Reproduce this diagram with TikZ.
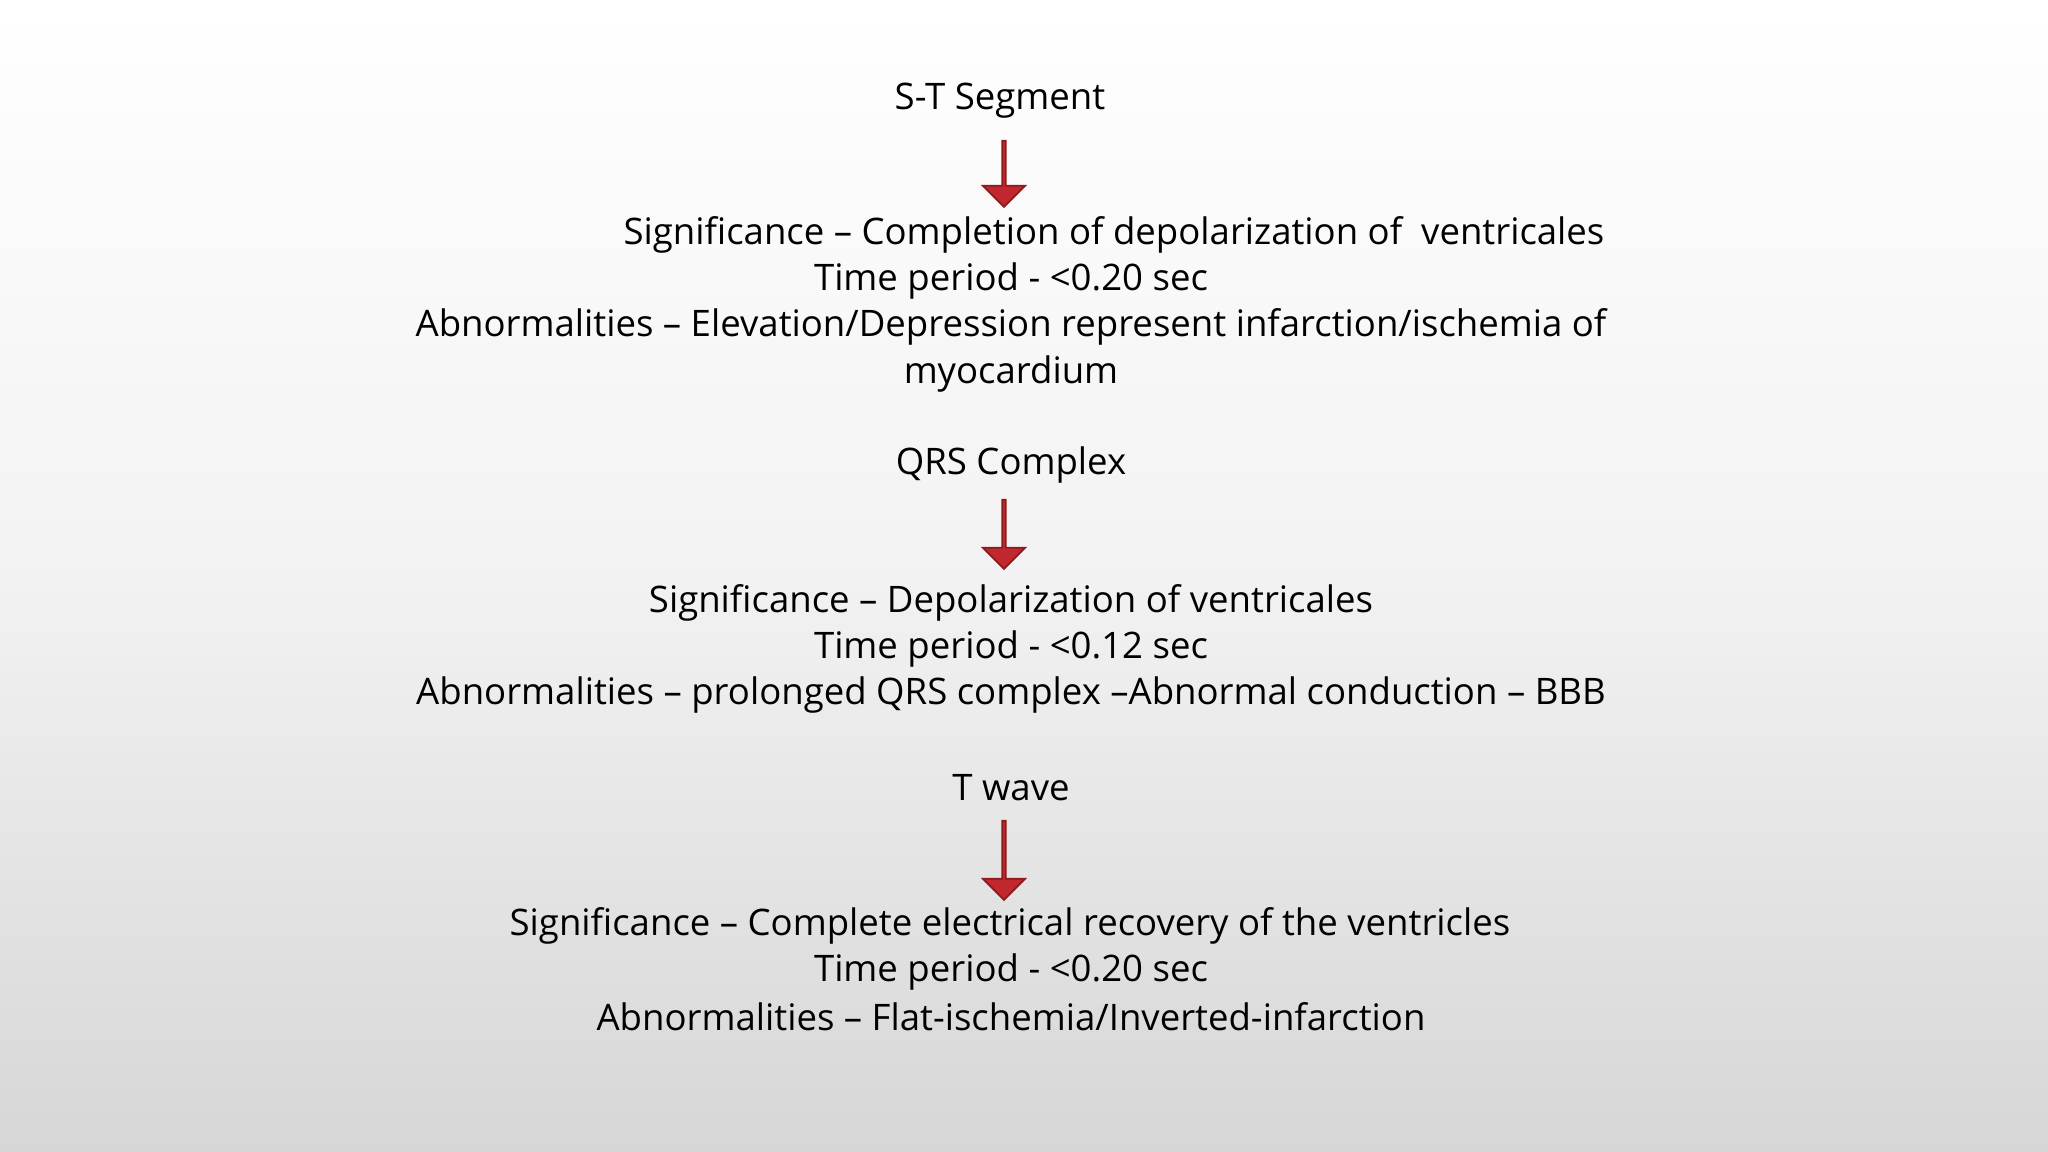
\documentclass[tikz,border=0pt]{standalone}
\usepackage{fontspec}
\setmainfont{Open Sans}
\usetikzlibrary{shapes.arrows}
\definecolor{arrred}{HTML}{C0282D}
\definecolor{arrdark}{HTML}{8E1A1E}
\tikzset{
 txt/.style={font=\fontsize{10.4}{12}\selectfont, inner sep=0pt, text=black},
 downarr/.style={single arrow, draw=arrdark, fill=arrred, line width=0.5pt, rotate=-90,
   minimum width=0.42cm, single arrow head extend=0.1cm, single arrow head indent=0pt, inner sep=0pt}
}
\begin{document}
\begin{tikzpicture}
\shade[top color=white, bottom color=black!16, middle color=black!5] (0,0) rectangle (20.48,-11.52);
\useasboundingbox (0,0) rectangle (20.48,-11.52);
\begin{scope}[yshift=-0.04cm]
\node[txt] (st) at (10.00,-0.97) {S-T Segment};
\node[txt] (s1) at (11.14,-2.31) {Significance – Completion of depolarization of \ ventricales};
\node[txt] (t1) at (10.11,-2.77) {Time period - <0.20 sec};
\node[txt] (b1) at (10.11,-3.23) {Abnormalities – Elevation/Depression represent infarction/ischemia of};
\node[txt] (m1) at (10.11,-3.70) {myocardium};
\node[txt] (qrs) at (10.11,-4.61) {QRS Complex};
\node[txt] (s2) at (10.11,-5.99) {Significance – Depolarization of ventricales};
\node[txt] (t2) at (10.11,-6.45) {Time period - <0.12 sec};
\node[txt] (b2) at (10.11,-6.91) {Abnormalities – prolonged QRS complex –Abnormal conduction – BBB};
\node[txt] (tw) at (10.11,-7.84) {T wave};
\node[txt] (s3) at (10.10,-9.22) {Significance – Complete electrical recovery of the ventricles};
\node[txt] (t3) at (10.11,-9.68) {Time period - <0.20 sec};
\node[txt] (b3) at (10.11,-10.13) {Abnormalities – Flat-ischemia/Inverted-infarction};
\end{scope}
\node[downarr, minimum height=0.66cm] (a1) at (10.04,-1.73) {};
\node[downarr, minimum height=0.69cm] (a2) at (10.04,-5.335) {};
\node[downarr, minimum height=0.79cm] (a3) at (10.04,-8.595) {};
\end{tikzpicture}
\end{document}
